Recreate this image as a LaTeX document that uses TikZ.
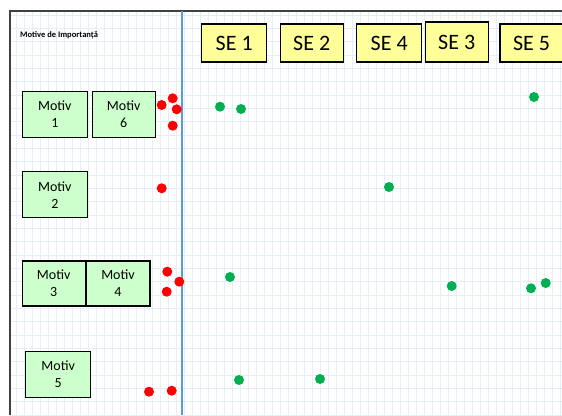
\documentclass[tikz,border=0pt]{standalone}
\usepackage{fontspec}
\setmainfont{Carlito}
\usetikzlibrary{positioning}
\definecolor{gridblue}{RGB}{228,237,248}
\definecolor{frameline}{RGB}{64,64,64}
\definecolor{divblue}{RGB}{91,155,213}
\definecolor{seyellow}{RGB}{255,255,153}
\definecolor{motivgreen}{RGB}{204,255,204}
\definecolor{dotred}{RGB}{255,0,0}
\definecolor{dotgreen}{RGB}{0,176,80}

\begin{document}
\begin{tikzpicture}[x=1pt, y=-1pt]
\tikzstyle{sebox} = [rectangle, draw=black, line width=1.4pt, fill=seyellow, minimum width=64pt, minimum height=38pt, inner sep=0pt, font=\fontsize{22}{24}\selectfont]
\tikzstyle{motivbox} = [rectangle, draw=black, line width=1.3pt, fill=motivgreen, minimum width=64pt, minimum height=46pt, inner sep=0pt, align=center, font=\fontsize{14}{17}\selectfont]
\tikzstyle{reddot} = [circle, fill=dotred, minimum size=10pt, inner sep=0pt]
\tikzstyle{greendot} = [circle, fill=dotgreen, minimum size=10pt, inner sep=0pt]
\tikzstyle{gridline} = [gridblue, line width=0.9pt]

\useasboundingbox (0,0) rectangle (562,415);
\clip (0,0) rectangle (562,415);

% grid
\foreach \x in {16,24,...,560} \draw[gridline] (\x,11) -- (\x,415);
\foreach \y in {15,28.3333,...,415} \draw[gridline] (10,\y) -- (562,\y);

% frame and divider
\draw[frameline, line width=1.5pt] (10,415) -- (10,11) -- (562,11);
\draw[divblue, line width=1.5pt] (182,11) -- (182,415);

\node (title) [anchor=west, inner sep=0pt, font=\fontsize{8.5}{10}\selectfont\bfseries] at (20,35) {Motive de Importanță};

% SE headers
\node (se1) [sebox, minimum width=65pt] at (234.2,43) {SE 1};
\node (se2) [sebox, minimum width=63pt] at (311.7,43) {SE 2};
\node (se4) [sebox, minimum width=65pt] at (389.2,43) {SE 4};
\node (se3) [sebox, minimum width=63pt, minimum height=40pt] at (456.7,42) {SE 3};
\node (se5) [sebox, minimum width=63pt] at (531.5,43) {SE 5};

% motive
\node (motiv1) [motivbox, minimum width=65pt] at (54.8,114.5) {Motiv\\1};
\node (motiv6) [motivbox, minimum width=63pt] at (123.7,114.5) {Motiv\\6};
\node (motiv2) [motivbox, minimum width=65pt] at (54.8,194.7) {Motiv\\2};
\node (motiv3) [motivbox, minimum width=63pt, minimum height=45pt] at (53.7,283.5) {Motiv\\3};
\node (motiv4) [motivbox, minimum height=45pt] at (118,283.5) {Motiv\\4};
\node (motiv5) [motivbox, minimum width=65pt] at (58.2,374.7) {Motiv\\5};

% red dots
\foreach \x/\y [count=\i] in {161.7/105, 172.7/98.3, 176.7/109.3, 172.7/125.7, 161.7/188.3, 167.3/271.7, 179.3/281.7, 166.7/291.7, 149/391.7, 171.7/390.7}
  \node (red\i) [reddot] at (\x,\y) {};

% green dots
\foreach \x/\y [count=\i] in {220/106.7, 241/109, 534/97, 389/187, 230/277, 451.7/286, 531/288.3, 545.7/283, 239/380, 320/379}
  \node (green\i) [greendot] at (\x,\y) {};

\end{tikzpicture}
\end{document}
